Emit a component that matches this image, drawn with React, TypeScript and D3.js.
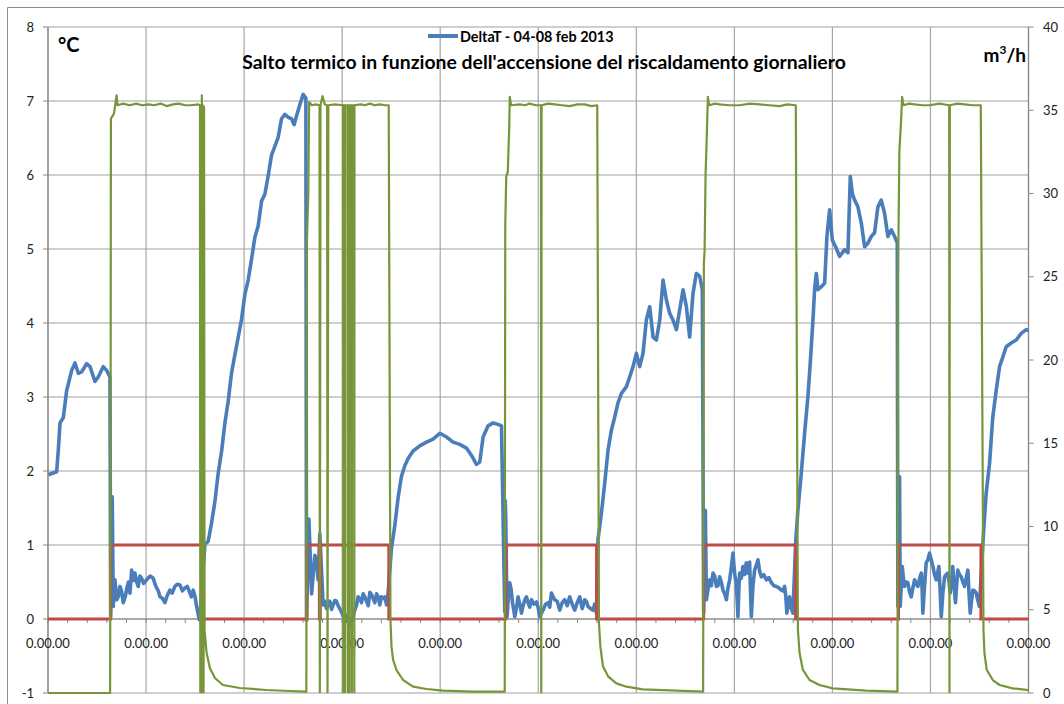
import React from "react";
import * as d3 from "d3";

// ---- data (time in hours from 04 feb 00:00) ----
const xTickLabels = ["0.00.00","0.00.00","0.00.00","0.00.00","0.00.00","0.00.00","0.00.00","0.00.00","0.00.00","0.00.00","0.00.00"];
const leftTicks = [-1, 0, 1, 2, 3, 4, 5, 6, 7, 8];
const rightTicks = [0, 5, 10, 15, 20, 25, 30, 35, 40];

// DeltaT [°C] - main trace
const deltaT: [number, number][] = [
  [0.04,1.95],[1.06,1.99],[1.26,2.28],[1.47,2.65],[1.87,2.72],[2.29,3.09],[2.9,3.36],[3.3,3.46],[3.71,3.32],[4.12,3.34],
  [4.73,3.45],[5.14,3.41],[5.75,3.21],[6.15,3.27],[6.76,3.41],[7.18,3.36],[7.58,3.27],[7.67,0.03],[7.86,1.65],[7.99,0.17],
  [8.19,0.53],[8.4,0.26],[8.81,0.44],[9.21,0.22],[9.7,0.44],[10.03,0.35],[10.24,0.66],[10.64,0.62],[11.04,0.44],[11.46,0.55],
  [12.07,0.53],[12.88,0.55],[13.29,0.42],[13.7,0.3],[14.31,0.22],[14.92,0.39],[15.53,0.44],[16.15,0.46],[16.76,0.42],[17.37,0.35],
  [17.77,0.39],[18.19,0.17],[18.51,-0.01],[18.59,0.0],[19.2,1.01],[19.61,1.05],[20.02,1.3],[20.43,1.59],[20.83,1.97],[21.25,2.27],
  [21.65,2.65],[22.05,2.94],[22.47,3.33],[22.87,3.57],[23.28,3.81],[23.69,4.05],[24.1,4.39],[24.5,4.58],[24.92,4.87],[25.32,5.16],
  [25.72,5.31],[26.14,5.65],[26.54,5.74],[26.95,5.99],[27.36,6.27],[27.77,6.39],[28.17,6.51],[28.58,6.76],[28.99,6.82],[29.39,6.78],
  [29.81,6.76],[30.12,6.68],[30.42,6.8],[30.82,6.95],[31.23,7.09],[31.56,7.04],[31.64,-0.02],[31.93,1.35],[32.26,0.34],[32.66,0.86],
  [32.87,0.77],[33.06,0.53],[33.27,1.15],[33.67,0.19],[34.09,0.14],[34.49,0.24],[34.9,0.19],[35.31,0.24],[35.71,0.14],[36.12,0.04],
  [36.53,-0.03],[36.94,-0.1],[37.34,0.04],[37.76,0.19],[38.16,0.28],[38.57,0.34],[38.98,0.24],[39.39,0.36],[39.79,0.28],[40.21,0.34],
  [40.61,0.19],[41.01,0.28],[41.43,0.19],[41.62,0.34],[42.04,0.96],[42.44,1.26],[42.85,1.64],[43.26,1.93],[43.67,2.07],[44.07,2.17],
  [44.68,2.27],[45.5,2.34],[46.32,2.39],[47.13,2.43],[47.95,2.51],[48.77,2.46],[49.58,2.39],[50.4,2.36],[51.21,2.31],[51.83,2.21],
  [52.44,2.09],[52.84,2.12],[53.25,2.46],[53.86,2.61],[54.47,2.65],[55.08,2.63],[55.5,2.61],[55.9,0.1],[55.96,1.6],[56.02,1.38],
  [56.18,0.03],[56.51,0.49],[56.85,0.22],[57.13,0.03],[57.53,0.3],[57.95,0.08],[58.35,0.26],[58.75,0.22],[59.17,0.26],[59.78,0.23],
  [60.18,0.03],[60.59,0.12],[61.2,0.22],[61.61,0.35],[62.02,0.26],[62.63,0.12],[63.24,0.26],[63.85,0.3],[64.46,0.12],[65.08,0.3],
  [65.69,0.26],[66.09,0.17],[66.7,0.12],[67.12,0.08],[67.31,1.07],[67.73,1.43],[68.13,1.83],[68.54,2.28],[68.95,2.55],[69.36,2.73],
  [69.76,2.92],[70.18,3.05],[70.79,3.14],[71.19,3.27],[71.6,3.41],[72.01,3.59],[72.42,3.41],[72.82,3.59],[73.23,4.04],[73.64,4.22],
  [74.05,3.81],[74.46,3.77],[74.87,4.04],[75.27,4.58],[75.68,4.31],[76.09,4.13],[76.49,4.04],[76.91,3.91],[77.31,4.18],[77.72,4.45],
  [78.13,4.22],[78.53,3.81],[78.94,4.4],[79.35,4.67],[79.76,4.63],[80.08,4.45],[80.24,0.08],[80.45,1.47],[80.58,0.26],[80.98,0.53],
  [81.39,0.62],[81.8,0.44],[82.2,0.57],[82.61,0.39],[83.02,0.26],[83.43,0.53],[83.83,0.89],[84.24,0.49],[84.44,0.03],[84.65,0.62],
  [85.05,0.71],[85.46,0.76],[85.87,0.77],[86.08,0.03],[86.48,0.66],[86.89,0.8],[87.3,0.57],[87.91,0.53],[88.53,0.49],[89.14,0.44],
  [89.75,0.39],[90.15,0.44],[90.43,0.08],[90.76,0.3],[91.17,0.08],[91.5,1.03],[91.78,1.47],[92.19,1.97],[92.6,2.51],[93.0,3.0],
  [93.29,3.46],[93.62,4.04],[93.82,4.45],[94.03,4.67],[94.23,4.45],[94.64,4.49],[95.05,4.54],[95.33,5.17],[95.66,5.53],[95.99,5.12],
  [96.39,5.03],[96.88,4.9],[97.49,4.99],[97.9,4.95],[98.19,5.98],[98.44,5.75],[98.72,5.66],[99.12,5.57],[99.54,5.35],[99.94,5.03],
  [100.35,5.08],[100.76,5.17],[101.16,5.22],[101.57,5.57],[101.98,5.66],[102.39,5.48],[102.79,5.17],[103.21,5.26],[103.61,5.17],[103.94,5.08],
  [104.01,0.17],[104.22,1.92],[104.3,0.17],[104.55,0.71],[104.83,0.44],[105.24,0.49],[105.65,0.3],[106.06,0.53],[106.46,0.44],[106.88,0.62],
  [107.07,0.08],[107.48,0.76],[107.89,0.89],[108.3,0.71],[108.71,0.53],[109.03,0.71],[109.32,0.03],[109.73,0.57],[110.13,0.62],[110.42,0.35],
  [110.73,0.71],[111.06,0.22],[111.34,0.66],[111.77,0.57],[112.17,0.44],[112.58,0.66],[112.87,0.08],[113.19,0.39],[113.6,0.35],[114.0,0.17],
  [114.49,1.16],[114.82,1.7],[115.23,2.1],[115.63,2.73],[116.05,3.09],[116.46,3.41],[116.86,3.54],[117.27,3.68],[117.88,3.73],[118.49,3.77],
  [119.11,3.86],[119.72,3.91],[120.0,3.9],
];

// DeltaT [°C] - extra readings in the noisy low phases
const deltaTDetail: [number, number][] = [
  [8.09,0.38],[8.3,0.4],[8.6,0.3],[9.0,0.38],[9.45,0.3],[9.85,0.5],[10.45,0.52],[10.85,0.5],[11.25,0.58],[11.7,0.48],
  [12.5,0.58],[13.1,0.47],[13.5,0.38],[14.0,0.28],[14.6,0.32],[15.2,0.35],[15.8,0.47],[16.45,0.38],[17.05,0.44],[17.55,0.3],[18.0,0.3],
  [33.88,0.24],[34.3,0.2],[34.7,0.13],[35.1,0.25],[35.5,0.18],[35.9,0.1],[36.3,0.08],[36.73,0.05],[37.15,-0.05],[37.55,0.12],
  [37.95,0.3],[38.37,0.22],[38.78,0.3],[39.19,0.18],[39.59,0.33],[40.0,0.22],[40.41,0.3],[40.81,0.3],[41.22,0.3],
  [56.35,0.3],[56.68,0.4],[57.0,0.12],[57.33,0.15],[57.74,0.2],[58.15,0.18],[58.55,0.3],[58.96,0.16],[59.48,0.2],[59.98,0.16],
  [60.39,0.08],[60.9,0.2],[61.4,0.16],[61.82,0.3],[62.32,0.24],[62.93,0.22],[63.55,0.18],[64.15,0.2],[64.77,0.22],[65.38,0.14],
  [65.89,0.24],[66.4,0.14],[66.9,0.2],
  [80.78,0.4],[81.18,0.45],[81.6,0.58],[82.0,0.45],[82.4,0.5],[82.82,0.34],[83.22,0.42],[83.63,0.7],[84.05,0.6],[84.55,0.4],
  [84.85,0.55],[85.25,0.6],[85.66,0.62],[85.97,0.4],[86.28,0.45],[86.68,0.72],[87.1,0.64],[87.6,0.6],[88.22,0.56],[88.83,0.45],
  [89.45,0.42],[89.95,0.38],[90.3,0.3],[90.6,0.2],[90.96,0.15],
  [104.43,0.45],[104.69,0.55],[105.03,0.5],[105.45,0.36],[105.85,0.42],[106.26,0.47],[106.67,0.55],[106.98,0.4],[107.28,0.45],[107.68,0.8],
  [108.1,0.8],[108.5,0.6],[108.87,0.62],[109.18,0.4],[109.52,0.35],[109.93,0.6],[110.28,0.5],[110.58,0.5],[110.9,0.45],[111.2,0.45],
  [111.55,0.6],[111.97,0.5],[112.38,0.55],[112.72,0.35],[113.03,0.25],[113.4,0.38],[113.8,0.25],
];

// Heating on/off [0/1], step after
const heating: [number, number][] = [
  [0,0],[7.67,1],[18.78,0],[31.68,1],[33.21,0],[33.33,1],[41.71,0],[56.02,1],[67.14,0],[80.24,1],[91.5,0],[104.09,1],[114.18,0],[120,0],
];

// Flow [m³/h]
const flow: [number, number][] = [
  [0,0],[7.6,0],[7.67,20],[7.7,34.5],[8.07,34.8],[8.4,35.9],[8.5,35.3],[9.2,35.4],[10,35.3],[10.8,35.4],[11.5,35.3],[12.3,35.35],[13,35.3],
  [13.8,35.4],[14.5,35.25],[15.3,35.35],[16,35.4],[16.8,35.3],[17.5,35.3],[18.4,35.35],
  [18.6,35.3],[18.64,0.05],[18.7,35.2],[18.76,0.05],[18.83,35.9],[18.9,0.05],[18.96,35.3],[19.04,0.05],[19.1,35.2],[19.16,3.8],
  [19.41,2.4],[19.81,1.5],[20.43,0.9],[21.4,0.48],[23.48,0.3],[26.75,0.18],[29.6,0.12],[31.62,0.08],
  [31.68,27],[31.86,30],[31.96,35.5],[32.29,35.3],[32.78,35.35],[33.23,35.3],[33.27,0.05],[33.35,35.3],[33.6,35.85],[33.88,35.35],
  [34.16,35.3],[34.21,0.05],[34.31,35.3],[35.1,35.35],[36.12,35.3],[36.14,0.05],[36.16,35.3],[36.34,35.3],[36.36,0.05],[36.38,35.3],
  [36.68,35.3],[36.7,0.05],[36.72,35.3],[36.88,35.3],[36.9,0.05],[36.92,35.3],[37.17,35.3],[37.19,0.05],[37.21,35.3],[37.47,35.3],
  [37.49,0.05],[37.51,35.3],[38.3,35.35],[38.77,35.3],[39.4,35.4],[39.99,35.3],[40.6,35.35],[41.21,35.3],[41.7,35.3],
  [41.91,4.4],[42.04,2.8],[42.23,2.0],[42.65,1.38],[43.46,0.78],[44.68,0.38],[46.32,0.24],[48.35,0.14],[52.02,0.08],[55.9,0.08],
  [55.96,28],[56.08,31.0],[56.27,31.3],[56.45,34],[56.51,35.8],[56.68,35.3],[57.73,35.35],[58.4,35.3],[58.95,35.4],[59.7,35.3],[60.33,35.3],[60.37,0.05],
  [60.41,35.3],[61.2,35.4],[62.02,35.35],[62.9,35.3],[63.85,35.25],[64.8,35.35],[65.69,35.35],[66.5,35.25],[67.22,35.3],
  [67.43,4.2],[67.6,2.8],[67.92,1.6],[68.54,1.0],[69.56,0.58],[70.79,0.38],[72.82,0.22],[76.91,0.14],[80.18,0.08],
  [80.27,25.8],[80.36,26.6],[80.48,31.2],[80.6,33],[80.76,35.8],[80.91,35.3],[81.6,35.4],[82.2,35.35],[83.4,35.3],[84.65,35.3],
  [85.9,35.4],[87.09,35.35],[88.3,35.3],[89.53,35.25],[90.5,35.35],[91.52,35.3],
  [91.78,3.8],[91.98,2.4],[92.38,1.4],[93.2,0.78],[94.42,0.48],[96.05,0.28],[100.14,0.14],[103.96,0.08],
  [104.04,25],[104.14,30],[104.2,32.6],[104.41,34.4],[104.53,35.8],[104.7,35.3],[105.4,35.4],[106.06,35.35],[107.0,35.3],[107.89,35.3],
  [109.1,35.4],[110.29,35.3],[110.33,0.05],[110.37,35.3],[111.3,35.4],[112.17,35.35],[113.2,35.3],[114.16,35.3],
  [114.49,3.8],[114.61,2.4],[114.88,1.4],[115.63,0.78],[116.46,0.48],[118.06,0.28],[120,0.17],
];

const TITLE = "Salto termico in funzione dell'accensione del riscaldamento giornaliero";
const LEGEND = "DeltaT - 04-08 feb 2013";

const W = 1064, H = 704;
const PL = 48, PR = 1028.5, PT = 27, PB = 693;
const FONT = "Lato, 'Open Sans', sans-serif";

export default function App() {
  const x = d3.scaleLinear().domain([0, 120]).range([PL, PR]);
  const yL = d3.scaleLinear().domain([-1, 8]).range([PB, PT]);
  const yR = d3.scaleLinear().domain([0, 40]).range([PB, PT]);

  const blueData = deltaT.concat(deltaTDetail).sort((a, b) => a[0] - b[0]);

  const blueLine = d3.line<[number, number]>().x(d => x(d[0])).y(d => yL(d[1]));
  const redLine = d3.line<[number, number]>().x(d => x(d[0])).y(d => yL(d[1])).curve(d3.curveStepAfter);
  const greenLine = d3.line<[number, number]>().x(d => x(d[0])).y(d => yR(d[1]));

  const majorX = xTickLabels.map((_, i) => i * 12);
  const minorX = d3.range(0, 120.001, 2.4);
  const y0 = yL(0);

  return (
    <svg width={W} height={H} style={{ position: "absolute", left: 0, top: 0, background: "#fff" }} fontFamily={FONT}>
      <rect x={0} y={0} width={W} height={H} fill="#fff" />
      {/* outer chart border */}
      <line x1={7.5} y1={7.5} x2={W} y2={7.5} stroke="#8c8c8c" strokeWidth={1} />
      <line x1={7.5} y1={7.5} x2={7.5} y2={H} stroke="#8c8c8c" strokeWidth={1} />

      {/* horizontal gridlines */}
      {leftTicks.map(t => (
        <line key={"h" + t} x1={PL} x2={PR} y1={yL(t)} y2={yL(t)} stroke="#a0a0a0" strokeWidth={1.2} />
      ))}
      {/* vertical gridlines */}
      {majorX.map(t => (
        <line key={"v" + t} x1={x(t)} x2={x(t)} y1={PT} y2={PB} stroke="#a6a6a6" strokeWidth={1.2} />
      ))}

      {/* left axis */}
      <line x1={PL} x2={PL} y1={PT} y2={PB} stroke="#868686" strokeWidth={1.2} />
      {leftTicks.map(t => (
        <g key={"lt" + t}>
          <line x1={PL - 5} x2={PL} y1={yL(t)} y2={yL(t)} stroke="#868686" />
          <text x={34} y={yL(t)} dy="0.35em" textAnchor="end" fontSize={13} fill="#222">{t}</text>
        </g>
      ))}

      {/* right axis */}
      <line x1={PR} x2={PR} y1={PT} y2={PB} stroke="#868686" strokeWidth={1.2} />
      {rightTicks.map(t => (
        <g key={"rt" + t}>
          <line x1={PR} x2={PR + 5} y1={yR(t)} y2={yR(t)} stroke="#868686" />
          <text x={1043} y={yR(t)} dy="0.35em" textAnchor="start" fontSize={13} fill="#222">{t}</text>
        </g>
      ))}

      {/* x axis at zero */}
      <line x1={PL} x2={PR} y1={y0} y2={y0} stroke="#868686" strokeWidth={1.2} />
      {minorX.map(t => (
        <line key={"mx" + t} x1={x(t)} x2={x(t)} y1={y0} y2={y0 + 4} stroke="#868686" />
      ))}
      {xTickLabels.map((lab, i) => (
        <text key={"xl" + i} x={x(majorX[i])} y={648} textAnchor="middle" fontSize={13} fill="#222">{lab}</text>
      ))}

      {/* series */}
      <path d={blueLine(blueData) || ""} fill="none" stroke="#4a7ebb" strokeWidth={3.6} strokeLinejoin="round" />
      <path d={redLine(heating) || ""} fill="none" stroke="#be4b48" strokeWidth={3} />
      <path d={greenLine(flow) || ""} fill="none" stroke="#77963a" strokeWidth={2.2} strokeLinejoin="round" />

      {/* labels */}
      <text x={544} y={69} textAnchor="middle" fontSize={19.4} fontWeight="bold" fill="#000">{TITLE}</text>
      <line x1={428} x2={458} y1={36} y2={36} stroke="#4a7ebb" strokeWidth={4} />
      <text x={460} y={41.5} fontSize={14.4} fontWeight="bold" fill="#000">{LEGEND}</text>
      <text x={58} y={52} fontSize={20} fontWeight="bold" fill="#000">°C</text>
      <text x={1026} y={61.5} textAnchor="end" fontSize={19} fontWeight="bold" fill="#000">
        m<tspan fontSize={12} dy={-8}>3</tspan><tspan dy={8}>/h</tspan>
      </text>
    </svg>
  );
}
